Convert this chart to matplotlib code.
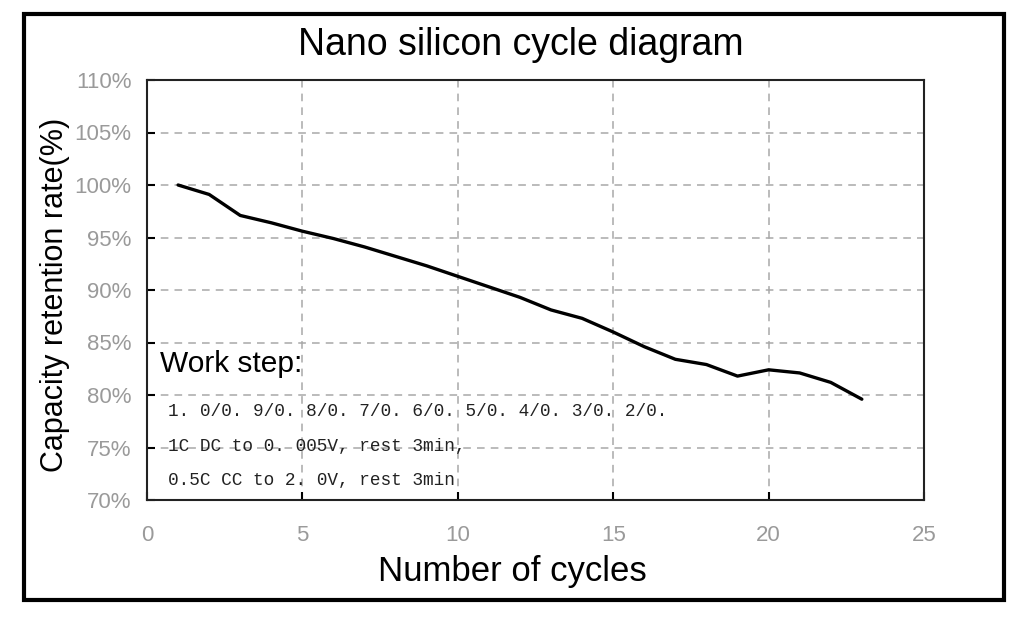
import numpy as np
import matplotlib.pyplot as plt
from matplotlib.patches import Rectangle

# ==================== data ====================
CYCLES = [1, 2, 3, 4, 5, 6, 7, 8, 9, 10, 11, 12, 13, 14, 15, 16, 17, 18, 19, 20, 21, 22, 23]
RETENTION = [100.0, 99.1, 97.1, 96.4, 95.6, 94.9, 94.1, 93.2, 92.3, 91.3, 90.3, 89.3,
             88.1, 87.3, 86.0, 84.6, 83.4, 82.9, 81.8, 82.4, 82.1, 81.2, 79.6]
X_TICKS = [0, 5, 10, 15, 20, 25]
Y_TICKS = [70, 75, 80, 85, 90, 95, 100, 105, 110]
Y_TICK_LABELS = [f"{v}%" for v in Y_TICKS]
STEP_LINES = ["1. 0/0. 9/0. 8/0. 7/0. 6/0. 5/0. 4/0. 3/0. 2/0.",
              "1C DC to 0. 005V, rest 3min,",
              "0.5C CC to 2. 0V, rest 3min"]

plt.rcParams['font.family'] = ['Liberation Sans', 'DejaVu Sans']

fig = plt.figure(figsize=(10.24, 6.18), dpi=100)
fig.patches.append(Rectangle((24/1024, 1-600/618), 980/1024, 586/618,
                             transform=fig.transFigure, fill=False,
                             edgecolor='black', linewidth=3))

ax = fig.add_axes([147/1024, 1-500/618, 777/1024, 420/618])
ax.plot(CYCLES, RETENTION, color='black', linewidth=2.4, solid_capstyle='round')

ax.set_xlim(0, 25)
ax.set_ylim(70, 110)
ax.set_xticks(X_TICKS)
ax.set_yticks(Y_TICKS)
ax.set_yticklabels(Y_TICK_LABELS)
ax.tick_params(direction='in', length=6, width=1.5, colors='black',
               labelcolor='#9a9a9a', labelsize=16)
ax.tick_params(axis='x', pad=18)
ax.tick_params(axis='y', pad=11)
ax.grid(True, linestyle=(0, (5, 4)), color='#a8a8a8', linewidth=1.1)
for sp in ax.spines.values():
    sp.set_linewidth(1.5)
    sp.set_color('#222222')

# pixel-positioned texts (y measured from top of the image)
def px_text(x, y, s, **kw):
    fig.text(x/1024, 1 - y/618, s, **kw)

px_text(521, 45, "Nano silicon cycle diagram", fontsize=27, ha='center', va='center')
px_text(512, 572, "Number of cycles", fontsize=25, ha='center', va='center')
px_text(55, 295, "Capacity retention rate(%)", fontsize=22, ha='center', va='center',
        rotation=90)
px_text(160, 364, "Work step:", fontsize=21.5, ha='left', va='center', color='black')
for i, line in enumerate(STEP_LINES):
    px_text(168, 411 + 35*i, line, fontsize=12.8, family='Liberation Mono',
            color='#222222', ha='left', va='center')

fig.savefig("out.png", dpi=100)
